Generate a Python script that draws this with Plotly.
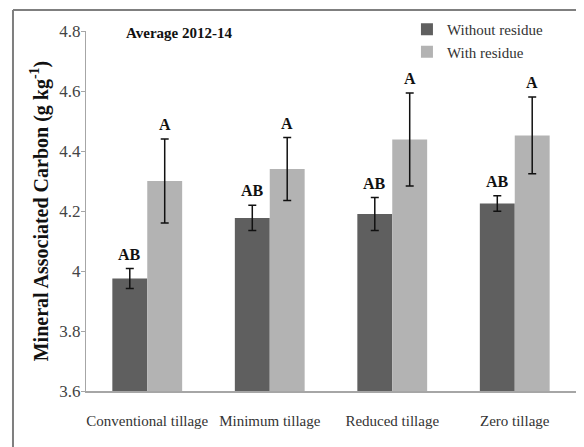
import plotly.graph_objects as go

categories = ["Conventional tillage", "Minimum tillage", "Reduced tillage", "Zero tillage"]
without_residue = [3.975, 4.177, 4.19, 4.225]
without_err = [0.033, 0.042, 0.055, 0.026]
with_residue = [4.30, 4.34, 4.438, 4.452]
with_err = [0.14, 0.105, 0.155, 0.128]
without_letters = ["AB", "AB", "AB", "AB"]
with_letters = ["A", "A", "A", "A"]
y_ticks = [3.6, 3.8, 4.0, 4.2, 4.4, 4.6, 4.8]
y_tick_text = ["3.6", "3.8", "4", "4.2", "4.4", "4.6", "4.8"]

SERIF = "Liberation Serif"

fig = go.Figure()
fig.add_trace(go.Bar(
    name="Without residue", x=categories, y=without_residue,
    marker=dict(color="#5f5f5f", line=dict(width=0)),
    error_y=dict(type="data", array=without_err, color="#111111", thickness=1.5, width=4),
))
fig.add_trace(go.Bar(
    name="With residue", x=categories, y=with_residue,
    marker=dict(color="#b3b3b3", line=dict(width=0)),
    error_y=dict(type="data", array=with_err, color="#111111", thickness=1.5, width=4),
))

annotations = []
for i, c in enumerate(categories):
    annotations.append(dict(x=c, y=without_residue[i] + without_err[i], xref="x", yref="y",
                            text="<b>%s</b>" % without_letters[i], showarrow=False,
                            xshift=-17.5, yanchor="bottom", yshift=4,
                            font=dict(family=SERIF, size=16, color="#111111")))
    annotations.append(dict(x=c, y=with_residue[i] + with_err[i], xref="x", yref="y",
                            text="<b>%s</b>" % with_letters[i], showarrow=False,
                            xshift=17.5, yanchor="bottom", yshift=4,
                            font=dict(family=SERIF, size=16, color="#111111")))
annotations.append(dict(x=0.078, y=0.995, xref="paper", yref="paper", text="<b>Average 2012-14</b>",
                        showarrow=False, xanchor="left", yanchor="middle",
                        font=dict(family=SERIF, size=15, color="#111111")))

shapes = [
    dict(type="line", xref="paper", yref="paper", x0=-0.149, x1=1.05, y0=1.058, y1=1.058,
         line=dict(color="#7f7f7f", width=2), layer="above"),
    dict(type="line", xref="paper", yref="paper", x0=-0.149, x1=-0.149, y0=1.058, y1=-0.2,
         line=dict(color="#7f7f7f", width=2), layer="above"),
]

fig.update_layout(
    width=584, height=447,
    margin=dict(l=78, r=16, t=23, b=64, autoexpand=False),
    paper_bgcolor="white", plot_bgcolor="white",
    barmode="group", bargap=0.43, bargroupgap=0,
    font=dict(family=SERIF, size=15, color="#333333"),
    legend=dict(x=0.655, y=1.05, xanchor="left", yanchor="top", bgcolor="rgba(0,0,0,0)",
                font=dict(family=SERIF, size=15, color="#333333"), itemwidth=30,
                tracegroupgap=0),
    annotations=annotations,
    shapes=shapes,
    showlegend=True,
)
fig.update_xaxes(showline=True, linecolor="#a6a6a6", linewidth=1.5, ticks="",
                 tickfont=dict(family=SERIF, size=15, color="#333333"), showgrid=False,
                 automargin=False, ticklabelstandoff=15)
fig.update_yaxes(range=[3.6, 4.8], tickvals=y_ticks, ticktext=y_tick_text, showline=True,
                 linecolor="#a6a6a6", linewidth=1, ticks="outside", ticklen=4, tickcolor="#a6a6a6",
                 showgrid=False, zeroline=False, automargin=False, ticklabelstandoff=-3,
                 tickfont=dict(family=SERIF, size=17, color="#444444"),
                 title=dict(text="<b>Mineral Associated Carbon (g kg<sup>-1</sup>)</b>",
                            font=dict(family=SERIF, size=20, color="#111111"), standoff=5))

fig.write_html("out.html")
